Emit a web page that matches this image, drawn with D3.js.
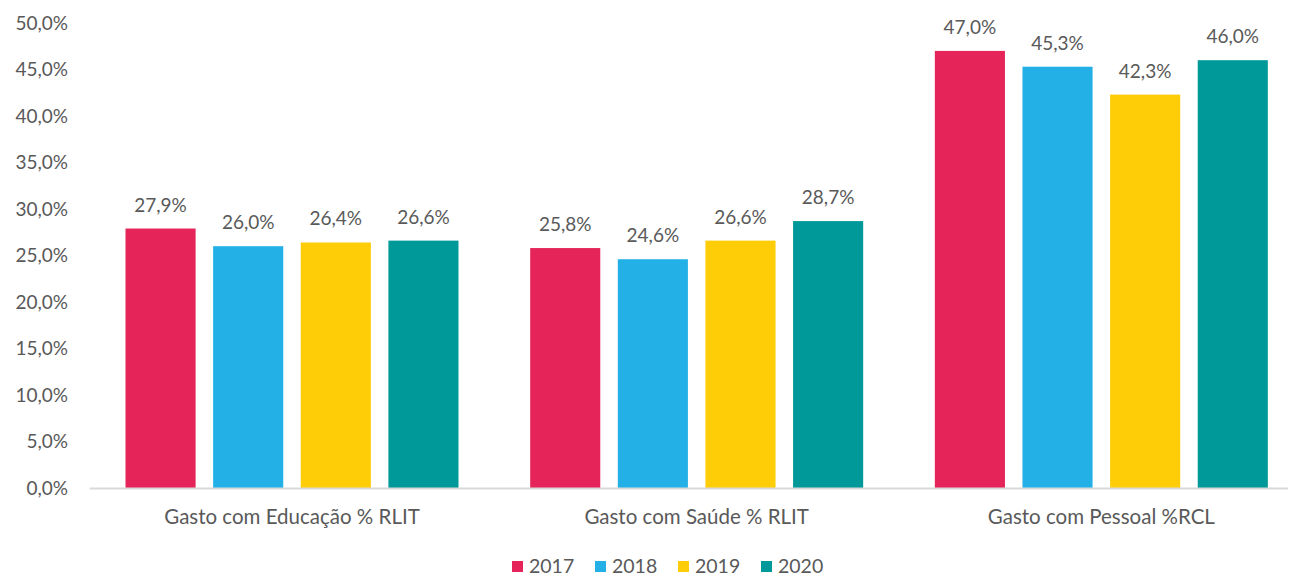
<!DOCTYPE html>
<html>
<head>
<meta charset="utf-8">
<script src="https://cdn.jsdelivr.net/npm/d3@7"></script>
<style>
  body { margin: 0; background: #fff; }
  text { font-family: Lato, "Open Sans", sans-serif; fill: #595959; }
</style>
</head>
<body>
<div id="chart"></div>
<script>
const categories = ['Gasto com Educação % RLIT', 'Gasto com Saúde % RLIT', 'Gasto com Pessoal %RCL']
const years = ['2017', '2018', '2019', '2020']
const values2017 = [27.9, 25.8, 47.0]
const values2018 = [26.0, 24.6, 45.3]
const values2019 = [26.4, 26.6, 42.3]
const values2020 = [26.6, 28.7, 46.0]
const yTicks = [0, 5, 10, 15, 20, 25, 30, 35, 40, 45, 50]
const colors = ['#E5245A', '#23B0E6', '#FECD07', '#009999']

const seriesValues = [values2017, values2018, values2019, values2020]

const width = 1291
const height = 576
const fontSize = 19

const svg = d3.select('#chart')
    .append('svg')
    .attr('width', width)
    .attr('height', height)

// Scales
const x0 = d3.scaleBand()
    .domain(categories)
    .range([89.5, 1303.5])
    .padding(0)

const x1 = d3.scaleBand()
    .domain(years)
    .range([36, 369])
    .paddingInner(0.2)

const y = d3.scaleLinear()
    .domain([0, 50])
    .range([488, 23])

const comma = v => d3.format('.1f')(v).replace('.', ',') + '%'

// Y axis labels
svg.append('g')
    .selectAll('text')
    .data(yTicks)
    .enter()
    .append('text')
    .attr('x', 68)
    .attr('y', d => y(d))
    .attr('dy', '0.35em')
    .attr('text-anchor', 'end')
    .style('font-size', fontSize + 'px')
    .text(d => comma(d))

// Bars
const groups = svg.append('g')
    .selectAll('g')
    .data(categories)
    .enter()
    .append('g')
    .attr('transform', d => `translate(${x0(d)},0)`)

groups.selectAll('rect')
    .data((d, i) => years.map((yr, j) => ({ year: yr, value: seriesValues[j][i], color: colors[j] })))
    .enter()
    .append('rect')
    .attr('x', d => x1(d.year))
    .attr('y', d => y(d.value))
    .attr('width', x1.bandwidth())
    .attr('height', d => y(0) - y(d.value))
    .style('fill', d => d.color)

// Value labels
groups.selectAll('text.label')
    .data((d, i) => years.map((yr, j) => ({ year: yr, value: seriesValues[j][i] })))
    .enter()
    .append('text')
    .attr('class', 'label')
    .attr('x', d => x1(d.year) + x1.bandwidth() / 2)
    .attr('y', d => y(d.value) - 17)
    .attr('text-anchor', 'middle')
    .style('font-size', fontSize + 'px')
    .text(d => comma(d.value))

// X axis line
svg.append('line')
    .attr('x1', x0.range()[0])
    .attr('x2', 1288)
    .attr('y1', y(0) + 0.5)
    .attr('y2', y(0) + 0.5)
    .style('stroke', '#d9d9d9')
    .style('stroke-width', 2)

// Category labels
svg.append('g')
    .selectAll('text')
    .data(categories)
    .enter()
    .append('text')
    .attr('x', d => x0(d) + 36 + 333 / 2)
    .attr('y', 524)
    .attr('text-anchor', 'middle')
    .style('font-size', '20.5px')
    .text(d => d)

// Legend
const legend = svg.append('g')
    .attr('transform', 'translate(512,561)')

const items = legend.selectAll('g')
    .data(years)
    .enter()
    .append('g')
    .attr('transform', (d, i) => `translate(${i * 83},0)`)

items.append('rect')
    .attr('width', 11)
    .attr('height', 11)
    .style('fill', (d, i) => colors[i])

items.append('text')
    .attr('x', 17)
    .attr('y', 5.5)
    .attr('dy', '0.35em')
    .style('font-size', '19.5px')
    .text(d => d)
</script>
</body>
</html>
